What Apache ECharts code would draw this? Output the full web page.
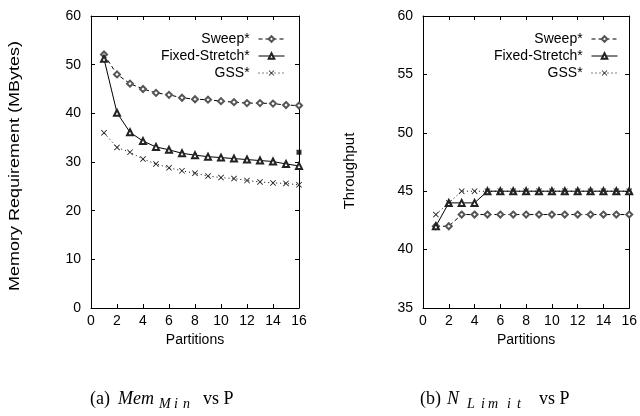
<!DOCTYPE html>
<html>
<head>
<meta charset="utf-8">
<script src="https://cdn.jsdelivr.net/npm/echarts@6/dist/echarts.min.js"></script>
<style>
  html, body { margin: 0; padding: 0; background: #fff; }
  #chart { width: 640px; height: 416px; }
</style>
</head>
<body>
<div id="chart"></div>
<script>
var partitions = [1, 2, 3, 4, 5, 6, 7, 8, 9, 10, 11, 12, 13, 14, 15, 16];

// (a) memory requirement
var memSweep = [52.1, 48.0, 46.1, 45.0, 44.2, 43.8, 43.2, 42.9, 42.8, 42.5, 42.3, 42.1, 42.1, 42.0, 41.7, 41.6];
var memFixed = [51.2, 40.1, 36.1, 34.3, 33.1, 32.5, 31.8, 31.4, 31.1, 30.9, 30.7, 30.5, 30.3, 30.1, 29.6, 29.2];
var memGss = [36.0, 33.0, 32.0, 30.6, 29.6, 28.8, 28.2, 27.7, 27.1, 26.8, 26.6, 26.2, 25.9, 25.7, 25.6, 25.3];
var memExtra = [[16, 32]];

// (b) throughput
var thrSweep = [42, 42, 43, 43, 43, 43, 43, 43, 43, 43, 43, 43, 43, 43, 43, 43];
var thrFixed = [42, 44, 44, 44, 45, 45, 45, 45, 45, 45, 45, 45, 45, 45, 45, 45];
var thrGss = [43, 44, 45, 45, 45, 45, 45, 45, 45, 45, 45, 45, 45, 45, 45, 45];

var names = ['Sweep*', 'Fixed-Stretch*', 'GSS*'];

var font = 'Liberation Sans, Arial, sans-serif';
var serif = 'Liberation Serif, Times New Roman, serif';
var crossPath = 'path://M0,1L1,0L5,4L9,0L10,1L6,5L10,9L9,10L5,6L1,10L0,9L4,5Z';

function pairs(vals) {
  var out = [];
  for (var i = 0; i < partitions.length; i++) {
    out.push([partitions[i], vals[i]]);
  }
  return out;
}

function xAx(grid, pos, labels) {
  return {
    type: 'value', gridIndex: grid, position: pos, min: 0, max: 16, interval: 2,
    axisLine: { show: true, onZero: false, lineStyle: { color: '#000', width: 1 } },
    axisTick: { show: true, inside: true, length: 4, lineStyle: { color: '#000' } },
    axisLabel: { show: labels, color: '#000', fontSize: 14, fontFamily: font, margin: 6 },
    splitLine: { show: false },
    name: labels ? 'Partitions' : '', nameLocation: 'middle', nameGap: 16,
    nameTextStyle: { color: '#000', fontSize: 14, fontFamily: font }
  };
}

function yAx(grid, pos, labels, min, max, step) {
  return {
    type: 'value', gridIndex: grid, position: pos, min: min, max: max, interval: step,
    axisLine: { show: true, onZero: false, lineStyle: { color: '#000', width: 1 } },
    axisTick: { show: true, inside: true, length: 4, lineStyle: { color: '#000' } },
    axisLabel: { show: labels, color: '#000', fontSize: 14, fontFamily: font, margin: 10 },
    splitLine: { show: false }
  };
}

function lines(xi, yi, a, b, c) {
  return [
    {
      name: names[0], type: 'line', xAxisIndex: xi, yAxisIndex: yi, data: pairs(a),
      symbol: 'emptyDiamond', symbolSize: 6, showAllSymbol: true,
      lineStyle: { color: '#000', width: 1, type: [4, 3] },
      itemStyle: { color: '#555', borderColor: '#555', borderWidth: 1 }
    },
    {
      name: names[1], type: 'line', xAxisIndex: xi, yAxisIndex: yi, data: pairs(b),
      symbol: 'emptyTriangle', symbolSize: 6, showAllSymbol: true,
      lineStyle: { color: '#000', width: 1, type: 'solid' },
      itemStyle: { color: '#222', borderColor: '#222', borderWidth: 1 }
    },
    {
      name: names[2], type: 'line', xAxisIndex: xi, yAxisIndex: yi, data: pairs(c),
      symbol: crossPath, symbolSize: 6, showAllSymbol: true,
      lineStyle: { color: '#000', width: 1, type: [1, 3] },
      itemStyle: { color: '#222', borderWidth: 0 }
    }
  ];
}

function legendAt(right) {
  return {
    data: names, orient: 'vertical', align: 'right', right: right, top: 31, padding: 0,
    itemWidth: 26, itemHeight: 7, itemGap: 1,
    formatter: function (n) { return n + ' '; },
    itemStyle: { borderWidth: 1 },
    lineStyle: { width: 1 },
    textStyle: { color: '#000', fontSize: 14, fontFamily: font, lineHeight: 16 },
    selectedMode: false
  };
}

// caption pieces: [text, x, italic, subscript]
function caption(parts) {
  return parts.map(function (p) {
    var size = p[3] ? 14 : 18;
    return {
      type: 'text', left: p[1], top: p[3] ? 397 : 390,
      style: { text: p[0], font: (p[2] ? 'italic ' : '') + size + 'px ' + serif, fill: '#000' }
    };
  });
}

var myChart = echarts.init(document.getElementById('chart'));

var series = lines(0, 0, memSweep, memFixed, memGss)
  .concat(lines(2, 2, thrSweep, thrFixed, thrGss));
series.push({
  name: 'extra', type: 'scatter', xAxisIndex: 0, yAxisIndex: 0, data: memExtra,
  symbol: 'rect', symbolSize: 5, itemStyle: { color: '#000' }, z: 5
});

var option = {
  animation: false,
  backgroundColor: '#fff',
  grid: [
    { left: 91, top: 16, width: 208, height: 292 },
    { left: 423, top: 16, width: 208, height: 292 }
  ],
  xAxis: [xAx(0, 'bottom', true), xAx(0, 'top', false), xAx(1, 'bottom', true), xAx(1, 'top', false)],
  yAxis: [
    yAx(0, 'left', true, 0, 60, 10),
    yAx(0, 'right', false, 0, 60, 10),
    yAx(1, 'left', true, 35, 60, 5),
    yAx(1, 'right', false, 35, 60, 5)
  ],
  legend: [legendAt(355), legendAt(22)],
  series: series,
  graphic: [
    {
      type: 'text', x: 15, y: 166, rotation: Math.PI / 2, scaleX: 1.2,
      style: { text: 'Memory Requirement (MBytes)', font: '15px ' + font, fill: '#000', align: 'center', verticalAlign: 'middle' }
    },
    {
      type: 'text', x: 350, y: 171, rotation: Math.PI / 2,
      style: { text: 'Throughput', font: '15px ' + font, fill: '#000', align: 'center', verticalAlign: 'middle' }
    }
  ].concat(
    caption([['(a)', 90], ['Mem', 118, true], ['M', 159, true, true], ['i', 174, true, true], ['n', 183, true, true], ['vs P', 203]]),
    caption([['(b)', 420], ['N', 447, true], ['L', 467, true, true], ['i', 481, true, true], ['m', 488, true, true], ['i', 507, true, true], ['t', 517, true, true], ['vs P', 539]])
  )
};

option && myChart.setOption(option);
</script>
</body>
</html>
